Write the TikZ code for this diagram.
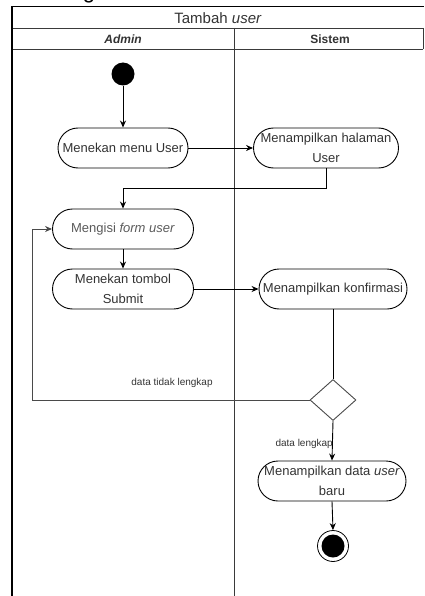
\documentclass[tikz,border=0pt]{standalone}
\usepackage{fontspec}
\setmainfont{Liberation Sans}
\usetikzlibrary{arrows.meta,shapes.geometric}

\definecolor{txt}{HTML}{333333}
\definecolor{softtxt}{HTML}{5A5A5A}
\definecolor{frameline}{HTML}{3A3A3A}
\definecolor{decline}{HTML}{4A4A4A}

\tikzset{
  action/.style={draw=black, line width=0.9pt, rounded corners=20pt,
    minimum height=40pt, inner sep=0pt, align=center, text=txt,
    font=\fontsize{13}{20.5}\selectfont},
  arr/.style={-{Stealth[length=7pt,width=6pt]}, line width=0.9pt, black},
  flow/.style={line width=0.9pt, black},
  guard/.style={text=txt, font=\fontsize{10}{12}\selectfont, inner sep=0pt},
  lane/.style={line width=0.8pt, frameline},
}

\begin{document}
\begin{tikzpicture}[x=1pt, y=-1pt]
\useasboundingbox (0,0) rectangle (424,596);

% heading glyph cut by the page top
\begin{scope}
  \clip (0,0) rectangle (424,10);
  \node[anchor=base, text=black, font=\fontsize{22}{24}\selectfont, inner sep=0pt]
    (headg) at (89,-1.8) {g};
\end{scope}

% pool frame and swimlanes
\draw[line width=1pt, black] (12,7) -- (424,7);
\draw[lane] (12,28) -- (423,28);
\draw[lane] (12,49) -- (423,49);
\draw[lane] (423,28) -- (423,49);
\draw[lane] (234,28) -- (234,596);
\draw[line width=2pt, black] (12,6.5) -- (12,596);

\node[text=txt, font=\fontsize{15}{18}\selectfont, inner sep=0pt] (title) at (218,18) {Tambah \textit{user}};
\node[text=txt, font=\bfseries\itshape\fontsize{12}{14}\selectfont, inner sep=0pt] (ladmin) at (123,39) {Admin};
\node[text=txt, font=\bfseries\fontsize{12}{14}\selectfont, inner sep=0pt] (lsistem) at (330,39) {Sistem};

% activity nodes
\node[circle, fill=black, minimum size=23pt, inner sep=0pt] (start) at (123,74) {};
\node[action, minimum width=130pt] (menu) at (123,148) {Menekan menu User};
\node[action, minimum width=145pt] (halaman) at (326,148) {Menampilkan halaman\\User};
\node[action, minimum width=141pt, text=softtxt] (isi) at (123,229) {Mengisi \textit{form user}};
\node[action, minimum width=141pt] (submit) at (123,289) {Menekan tombol\\Submit};
\node[action, minimum width=148pt] (konf) at (333,289) {Menampilkan konfirmasi};
\node[diamond, draw=decline, line width=0.9pt, minimum width=46pt, minimum height=41pt, inner sep=0pt] (dec) at (333,400) {};
\node[action, minimum width=148pt] (baru) at (332,481) {Menampilkan data \textit{user}\\baru};
\node[circle, draw=black, line width=0.8pt, minimum size=31pt, inner sep=0pt] (end) at (333,546) {};
\node[circle, fill=black, minimum size=23pt, inner sep=0pt] (endin) at (end.center) {};

\coordinate (turn) at (32,400);

% control flow
\draw[arr] (start) -- (menu);
\draw[arr] (menu.east) -- (halaman.west);
\draw[arr] (halaman.south) -- ++(0,20) -| (isi.north);
\draw[arr] (isi.south) -- (submit.north);
\draw[arr] (submit.east) -- (konf.west);
\draw[flow] (konf.south) -- (dec.north);
\draw[arr, decline] (dec.west) -- (turn) |- (isi.west);
\draw[arr] (dec.south) -- (baru.north);
\draw[arr] (baru.south) -- (end.north);

% guards
\node[guard] (gno) at (172,383) {data tidak lengkap};
\node[guard, anchor=east] (gyes) at (333,444) {data lengkap};
\end{tikzpicture}
\end{document}
